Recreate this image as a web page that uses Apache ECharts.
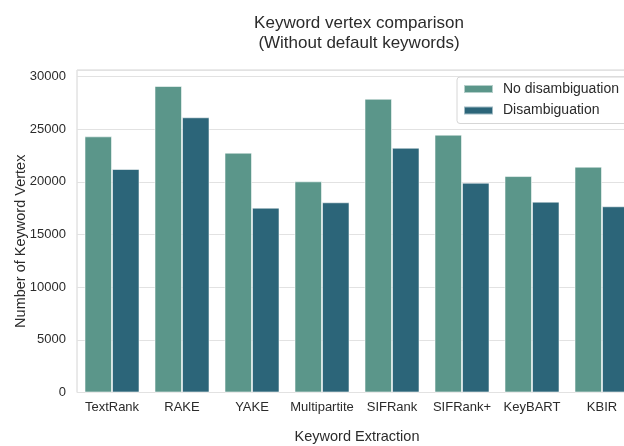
<!DOCTYPE html>
<html>
<head>
<meta charset="utf-8">
<style>
  html, body { margin: 0; padding: 0; background: #ffffff; }
  #chart { width: 624px; height: 446px; }
</style>
<script src="https://cdn.jsdelivr.net/npm/echarts@6/dist/echarts.min.js"></script>
</head>
<body>
<div id="chart"></div>
<script>
// Keyword extraction methods on the x axis
const categories = ['TextRank', 'RAKE', 'YAKE', 'Multipartite', 'SIFRank', 'SIFRank+', 'KeyBART', 'KBIR'];
// Number of keyword vertices per method
const noDisambiguation = [24320, 29100, 22770, 20050, 27890, 24480, 20550, 21440];
const disambiguation   = [21220, 26130, 17550, 18060, 23240, 19920, 18120, 17680];
const seriesNames = ['No disambiguation', 'Disambiguation'];
const yTicks = [0, 5000, 10000, 15000, 20000, 25000, 30000];

const textColor = '#2b2b2b';
const fontFamily = '"Liberation Sans", Arial, sans-serif';

const chart = echarts.init(document.getElementById('chart'), null, { renderer: 'canvas' });

chart.setOption({
  animation: false,
  backgroundColor: '#ffffff',
  textStyle: { fontFamily: fontFamily, color: textColor },
  title: {
    text: 'Keyword vertex comparison\n(Without default keywords)',
    left: 354,
    top: 8,
    textAlign: 'center',
    textStyle: { fontSize: 17, fontWeight: 'normal', color: textColor, lineHeight: 20, fontFamily: fontFamily }
  },
  legend: {
    orient: 'vertical',
    left: 457,
    top: 77,
    icon: 'rect',
    itemWidth: 29,
    itemHeight: 8,
    itemGap: 5.5,
    padding: [4, 8, 5, 6],
    backgroundColor: 'rgba(255,255,255,0.85)',
    borderColor: '#d6d6d6',
    borderWidth: 1,
    borderRadius: 3,
    textStyle: { fontSize: 14, color: textColor, lineHeight: 16, padding: [0, 0, 0, 5], fontFamily: fontFamily },
    data: seriesNames
  },
  grid: {
    left: 77,
    top: 70,
    width: 560,
    height: 322.5,
    outerBoundsMode: 'none',
    containLabel: false,
    show: true,
    borderColor: '#d4d4d4',
    borderWidth: 1,
    backgroundColor: 'transparent'
  },
  xAxis: {
    type: 'category',
    data: categories,
    axisLine: { show: false },
    axisTick: { show: false },
    axisLabel: { margin: 8, fontSize: 13, color: textColor, fontFamily: fontFamily, interval: 0 },
    splitLine: { show: false },
    name: 'Keyword Extraction',
    nameLocation: 'middle',
    nameGap: 37,
    nameMoveOverlap: false,
    nameTextStyle: { fontSize: 14.5, color: textColor, fontFamily: fontFamily }
  },
  yAxis: {
    type: 'value',
    min: 0,
    max: 30620,
    interval: 5000,
    axisLine: { show: false },
    axisTick: { show: false },
    axisLabel: {
      margin: 11,
      fontSize: 13,
      color: textColor,
      fontFamily: fontFamily,
      showMaxLabel: false,
      formatter: v => (yTicks.indexOf(v) >= 0 ? String(v) : '')
    },
    splitLine: { show: true, lineStyle: { color: '#e2e2e2', width: 1 } },
    name: 'Number of Keyword Vertex',
    nameLocation: 'middle',
    nameGap: 49,
    nameRotate: 90,
    nameMoveOverlap: false,
    nameTextStyle: { fontSize: 14.5, color: textColor, fontFamily: fontFamily, padding: [0, 20, 0, 0] }
  },
  series: [
    {
      name: seriesNames[0],
      type: 'bar',
      data: noDisambiguation,
      barWidth: 27.5,
      barGap: '0%',
      itemStyle: { color: '#5b968a', borderColor: 'rgba(255,255,255,0.55)', borderWidth: 1 }
    },
    {
      name: seriesNames[1],
      type: 'bar',
      data: disambiguation,
      barWidth: 27.5,
      barGap: '0%',
      itemStyle: { color: '#2c6579', borderColor: 'rgba(255,255,255,0.55)', borderWidth: 1 }
    }
  ]
});
</script>
</body>
</html>
